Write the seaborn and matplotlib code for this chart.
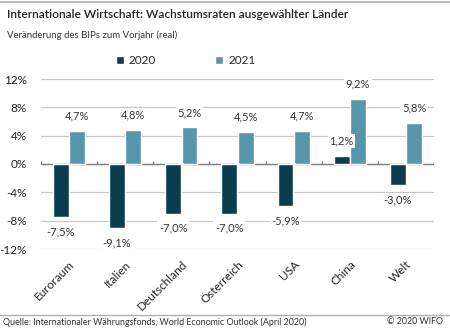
import matplotlib
matplotlib.use("Agg")
import matplotlib.pyplot as plt
import seaborn as sns
import pandas as pd
import numpy as np
from matplotlib.ticker import FuncFormatter

categories = ["Euroraum", "Italien", "Deutschland", "Österreich", "USA", "China", "Welt"]
values_2020 = [-7.5, -9.1, -7.0, -7.0, -5.9, 1.2, -3.0]
values_2021 = [4.7, 4.8, 5.2, 4.5, 4.7, 9.2, 5.8]
years = ["2020", "2021"]
colors = ["#0b3c50", "#5896ac"]
yticks = [-12, -8, -4, 0, 4, 8, 12]

df = pd.DataFrame({
    "Land": categories * 2,
    "Jahr": [years[0]] * len(categories) + [years[1]] * len(categories),
    "Wert": values_2020 + values_2021,
})

sns.set_theme(style="white")
plt.rcParams["font.family"] = ["Lato", "DejaVu Sans"]

fig = plt.figure(figsize=(4.5, 3.32), dpi=100)
ax = fig.add_axes([41/450, 1-249/332, 393/450, 170/332])

sns.barplot(data=df, x="Land", y="Wert", hue="Jahr", palette=colors,
            width=0.58, gap=0.03, ax=ax, saturation=1, legend=True, zorder=3)

ax.set_ylim(-12, 12)
ax.set_xlim(-0.5, len(categories) - 0.5)
ax.set_yticks(yticks)
ax.yaxis.set_major_formatter(FuncFormatter(lambda v, p: f"{int(v)}%"))
ax.grid(axis="y", color="#c8c8c8", linewidth=0.9, zorder=0)
for s in ax.spines.values():
    s.set_visible(False)
ax.axhline(0, color="#808080", linewidth=1.0, zorder=2)
bounds = np.arange(len(categories) + 1) - 0.5
ax.vlines(bounds, 0, 0.45, color="#808080", linewidth=1.0, zorder=2)
ax.tick_params(axis="y", length=0, labelsize=8.5, pad=10, colors="#222222")
ax.tick_params(axis="x", length=0, labelsize=8.5, pad=7, colors="#222222")
ax.set_xlabel("")
ax.set_ylabel("")
for lab in ax.get_xticklabels():
    lab.set_rotation(45)
    lab.set_ha("right")
    lab.set_rotation_mode("anchor")

for cont, vals in zip(ax.containers, [values_2020, values_2021]):
    for bar, v in zip(cont, vals):
        x = bar.get_x() + bar.get_width() / 2
        off = 1.3 if v >= 0 else -1.3
        ax.text(x, v + off, f"{v:.1f}%".replace(".", ","), ha="center",
                va="bottom" if v >= 0 else "top", fontsize=8, color="#333333",
                zorder=5, bbox=dict(boxstyle="square,pad=0.15", fc="white", ec="none"))

leg = ax.legend(loc="center", bbox_to_anchor=(0.368, 1.11), ncol=2, frameon=False,
                fontsize=8.5, handlelength=0.7, handleheight=0.7, handletextpad=0.4,
                columnspacing=5.0)

fig.text(7/450, 1-14/332, "Internationale Wirtschaft: Wachstumsraten ausgewählter Länder",
         fontsize=8.6, fontweight="semibold", color="#222222", va="center", ha="left")
fig.text(7/450, 1-35/332, "Veränderung des BIPs zum Vorjahr (real)",
         fontsize=6.9, color="#333333", va="center", ha="left")
fig.add_artist(plt.Line2D([0, 1], [1-2/332, 1-2/332], color="#b0b0b0", linewidth=1.2))
fig.add_artist(plt.Line2D([0, 1], [1-315/332, 1-315/332], color="#b0b0b0", linewidth=1))
fig.text(3/450, 1-322/332, "Quelle: Internationaler Währungsfonds, World Economic Outlook (April 2020)",
         fontsize=6.4, color="#333333", va="center", ha="left")
fig.text(443/450, 1-322/332, "© 2020 WIFO", fontsize=6.4, color="#333333", va="center", ha="right")

fig.savefig("out.png", dpi=100)
